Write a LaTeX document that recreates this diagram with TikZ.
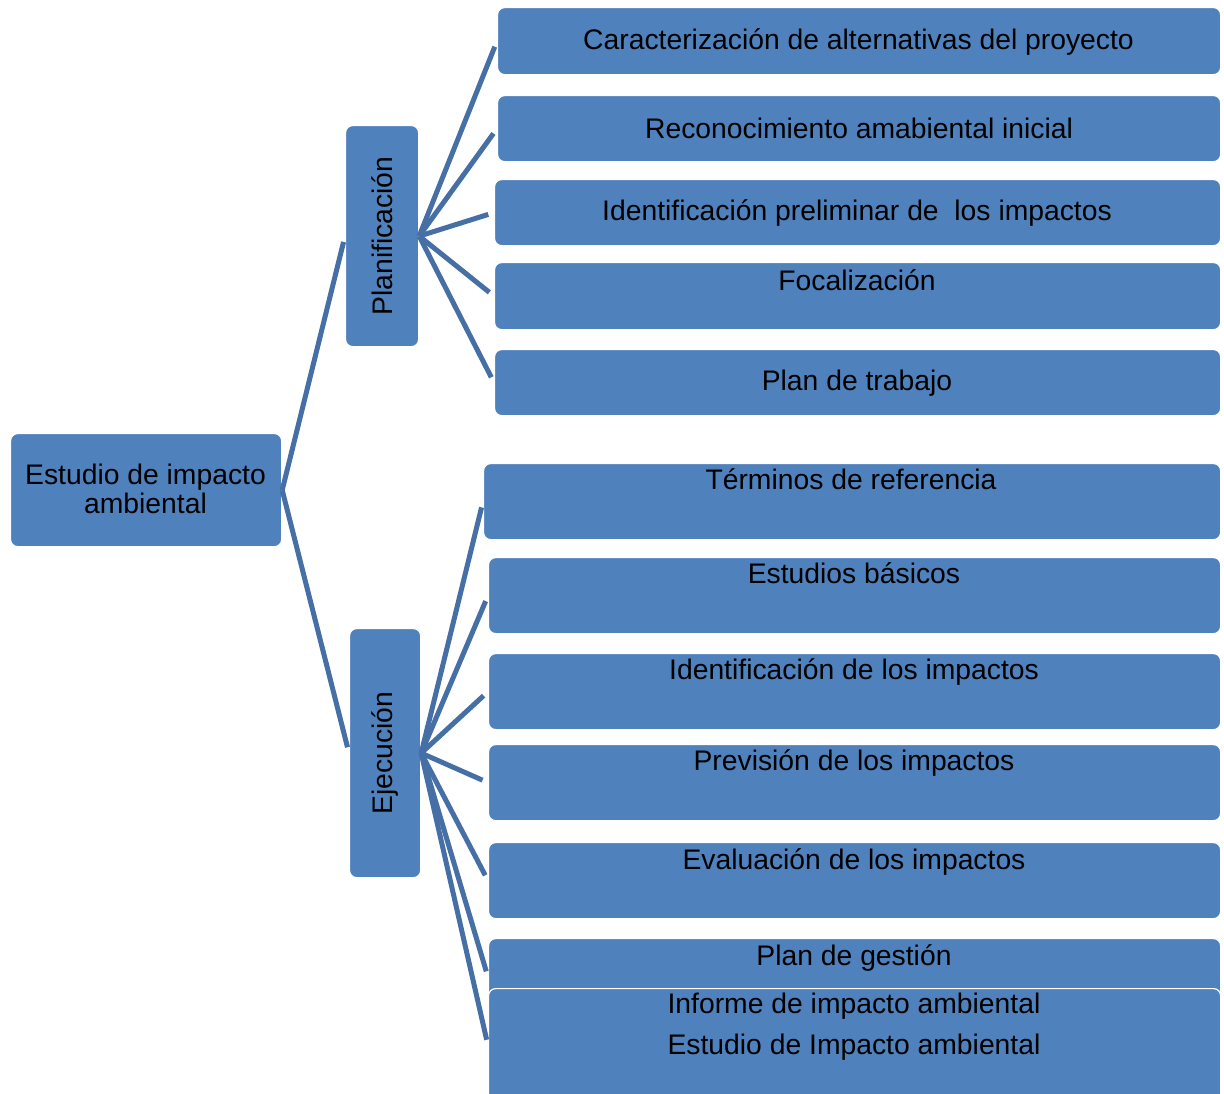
\documentclass[tikz,border=0pt]{standalone}
\usepackage{fontspec}
\setmainfont{Liberation Sans}
\definecolor{boxblue}{HTML}{4F81BD}
\definecolor{lineblue}{HTML}{456FA5}
\begin{document}
\begin{tikzpicture}[x=1pt,y=-1pt,
  box/.style={draw=white, line width=1.2pt, fill=boxblue, rounded corners=7pt, inner sep=0pt, anchor=north west, text=black, align=center, font=\fontsize{28.3}{29}\selectfont},
  lbl/.style={inner sep=0pt, text=black, align=center, font=\fontsize{28.3}{29}\selectfont},
  conn/.style={draw=lineblue, line width=5pt, shorten >=6pt}]
\useasboundingbox (0,0) rectangle (1224,1093);
% root and branches
\node[box, minimum width=271, minimum height=113] (root) at (10,433) {};
\node[lbl] (roottxt) at (145.5,488.5) {Estudio de impacto\\ambiental};
\node[box, minimum width=73, minimum height=221] (plan) at (345,125) {};
\node[lbl, rotate=90] (plantxt) at (plan.center) {Planificación};
\node[box, minimum width=71, minimum height=249] (ejec) at (349,628) {};
\node[lbl, rotate=90] (ejectxt) at (ejec.center) {Ejecución};
% top group
\node[box, minimum width=723, minimum height=67] (b1) at (497,7) {};
\node[lbl] (t1) at (858.5,42) {Caracterización de alternativas del proyecto};
\node[box, minimum width=723, minimum height=66] (b2) at (497,95) {Reconocimiento amabiental inicial};
\node[box, minimum width=726, minimum height=66] (b3) at (494,179) {};
\node[lbl] (t3) at (857,213) {Identificación preliminar de \ los impactos};
\node[box, minimum width=726, minimum height=67] (b4) at (494,262) {};
\node[lbl] (t4) at (857,280) {Focalización};
\node[box, minimum width=726, minimum height=66] (b5) at (494,349) {};
\node[lbl] (t5) at (857,383) {Plan de trabajo};
% bottom group
\node[box, minimum width=737, minimum height=76] (b6) at (483,463) {};
\node[lbl] (t6) at (851,479) {Términos de referencia};
\node[box, minimum width=732, minimum height=76] (b7) at (488,557) {};
\node[lbl] (t7) at (854,573) {Estudios básicos};
\node[box, minimum width=732, minimum height=76] (b8) at (488,653) {};
\node[lbl] (t8) at (854,672) {Identificación de los impactos};
\node[box, minimum width=732, minimum height=76] (b9) at (488,744) {};
\node[lbl] (t9) at (854,763) {Previsión de los impactos};
\node[box, minimum width=732, minimum height=76] (b10) at (488,842) {};
\node[lbl] (t10) at (854,862) {Evaluación de los impactos};
\node[box, minimum width=732, minimum height=77] (b11) at (488,938) {};
\node[lbl] (t11) at (854,958) {Plan de gestión};
\node[box, minimum width=732, minimum height=114] (b12) at (488,988) {};
\node[lbl, font=\fontsize{28.3}{41}\selectfont] (t12) at (854,1026.5) {Informe de impacto ambiental\\Estudio de Impacto ambiental};
% connectors
\draw[conn] (root.east) -- (plan.west);
\draw[conn] (root.east) -- (ejec.west);
\foreach \b in {b1,b2,b3,b4,b5}{\draw[conn] (plan.east) -- (\b.west);}
\foreach \b in {b6,b7,b8,b9,b10,b11,b12}{\draw[conn] (ejec.east) -- (\b.west);}
\end{tikzpicture}
\end{document}
